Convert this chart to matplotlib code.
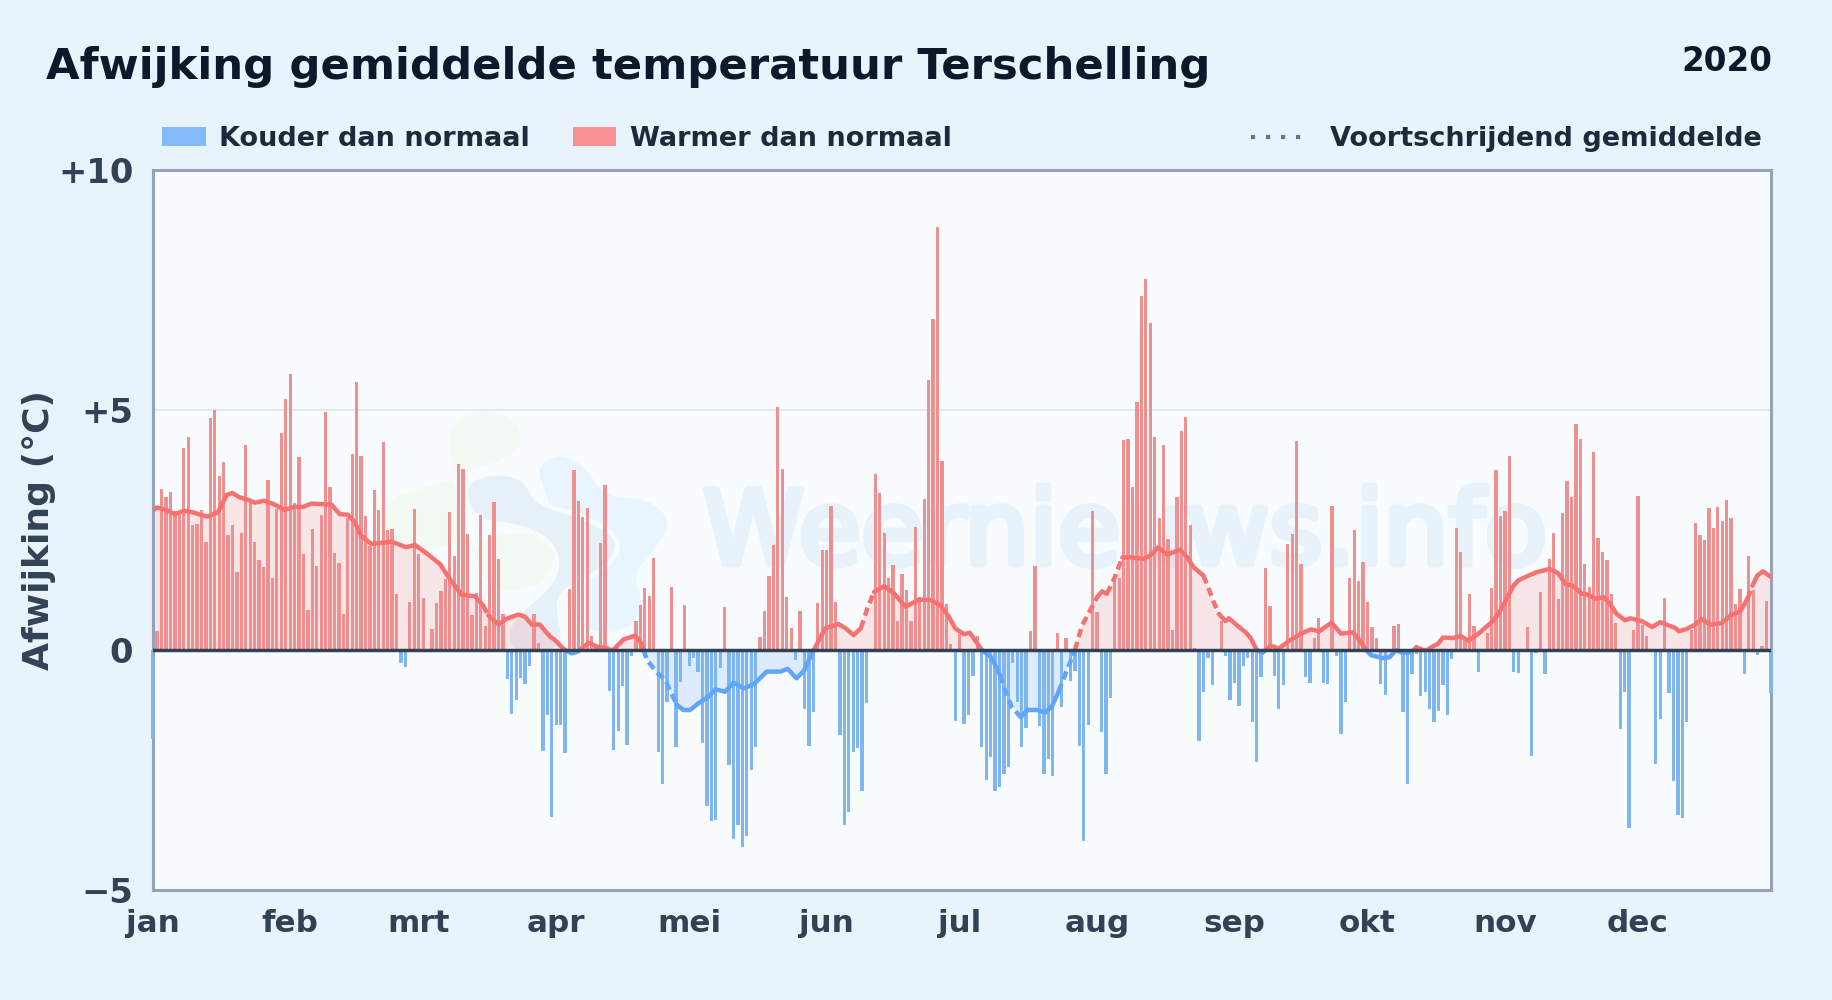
import numpy as np
import matplotlib
matplotlib.use("Agg")
import matplotlib.pyplot as plt
import matplotlib.patheffects as pe
from matplotlib.path import Path
from matplotlib.patches import PathPatch, Rectangle
from matplotlib.lines import Line2D

W, H = 1832, 1000

jan = [-1.85, 0.39, 3.35, 3.19, 3.30, 2.90, 2.90, 4.21, 4.44, 2.61, 2.63, 2.92, 2.24, 4.83, 5.00, 3.63,
       3.92, 2.40, 2.61, 1.63, 2.44, 4.27, 3.10, 2.26, 1.88, 1.72, 3.55, 1.51, 2.94, 4.52, 5.23]
feb = [5.75, 3.07, 4.02, 2.01, 0.84, 2.53, 1.74, 2.82, 4.96, 3.40, 2.03, 1.82, 0.76, 2.74, 4.09, 5.58,
       4.04, 2.80, 2.17, 3.34, 2.92, 4.34, 2.51, 2.53, 1.16, -0.28, -0.35, 0.99, 2.94]
mrt = [1.99, 1.09, 0, 0.43, 0.97, 1.22, 1.47, 2.88, 1.95, 3.88, 3.77, 2.42, 0.72, 1.19, 2.82, 0.51,
       2.40, 3.09, 1.90, 0.74, -0.60, -1.33, -1.05, -0.58, -0.70, -0.33, 0.76, 0.14, -2.10, -1.35, -3.48]
apr = [-1.56, -1.56, -2.15, 1.27, 3.74, 3.10, 2.78, 2.95, 0.29, 0.10, 2.22, 3.43, -0.85, -2.09, -1.68,
       -0.74, -1.97, -0.12, 0.60, 0.93, 1.29, 1.12, 1.91, -2.13, -2.80, -1.09, 1.31, -2.03, -0.66, 0.93]
mei = [-0.33, -0.16, -0.45, -1.93, -3.25, -3.57, -3.55, -0.37, 0.89, -2.40, -3.94, -3.65, -4.11, -3.88,
       -2.51, -2.03, 0.27, 0.81, 1.54, 2.18, 5.07, 3.78, 1.10, 0.46, -0.21, 0.81, -1.23, -2.01, -1.30, 0.98, 2.08]
jun = [2.08, 3.01, 1.00, -1.77, -3.65, -3.38, -2.13, -2.05, -2.94, -1.11, 0, 3.66, 3.28, 2.43, 1.50,
       1.77, 0.60, 1.58, 1.25, 0.60, 2.56, 1.10, 3.14, 5.63, 6.89, 8.81, 3.93, 0.96, 0.12, -1.47]
jul = [0.33, -1.55, -1.36, -0.55, 0.30, -2.03, -2.71, -2.22, -2.94, -2.86, -2.59, -2.44, -0.28, -1.09,
       -2.03, -1.63, 0.39, 1.76, -1.59, -2.59, -2.28, -2.63, 0.35, -1.18, 0.26, -0.64, -0.43, -1.99, -3.98, -1.57, 2.90]
aug = [0.80, -1.70, -2.59, -0.99, 1.45, 1.51, 4.38, 4.40, 3.40, 5.17, 7.37, 7.72, 6.81, 4.44, 2.76, 4.27,
       2.32, 0.41, 3.19, 4.56, 4.85, 2.61, 0.05, -1.90, -0.87, -0.17, -0.72, -0.05, 0.60, -0.12, -1.05]
sep = [-0.68, -1.16, -0.33, -0.16, -1.51, -2.34, -0.57, 1.70, 0.91, -0.55, -1.22, -0.72, 2.20, 2.42, 4.36,
       1.80, -0.57, -0.68, 0.26, 0.66, -0.68, -0.70, 3.01, -0.12, -1.76, -1.09, 1.49, 2.49, 1.43, 1.84]
okt = [0.99, 0.47, 0.24, -0.70, -0.93, 0, 0.49, 0.55, -1.29, -2.80, -0.50, -0.08, -0.95, -0.87, -1.23, -1.50,
       -1.27, -0.73, -1.35, -0.19, 2.55, 2.05, 0.24, 1.16, 0.51, -0.46, 0, 0.35, 1.30, 3.75, 2.80]
nov = [2.90, 4.04, -0.46, -0.48, 0, 0.47, -2.20, -0.06, 1.20, -0.50, 1.90, 2.44, 1.07, 2.86, 3.52, 3.19,
       4.71, 4.40, 1.80, 1.32, 4.13, 2.34, 2.05, 1.88, 1.16, 0.57, -1.64, -0.87, -3.70, 0.41]
dec = [3.21, 0.53, 0.30, 0, -2.37, -1.43, 1.09, -0.89, -2.72, -3.43, -3.49, -1.50, 0.41, 2.65, 2.40, 2.30,
       2.96, 2.55, 2.98, 2.69, 3.13, 2.74, 0.95, 1.28, -0.50, 1.95, 1.24, -0.10, 0.08, 1.03, -0.89]

month_labels = ["jan", "feb", "mrt", "apr", "mei", "jun", "jul", "aug", "sep", "okt", "nov", "dec"]
month_values = [jan, feb, mrt, apr, mei, jun, jul, aug, sep, okt, nov, dec]

# moving average as (day, value)
avg_days = [0, 1, 3, 5, 7, 9, 11, 12.4, 14.7, 15.8, 16.7, 18, 19.6, 21.5, 23, 25.2, 27.5, 29.7, 32, 33.9,
            35.8, 38, 40.3, 42.2, 44, 45.6, 47, 49.3, 51.6, 53.8, 57.2, 59.1, 61.7, 64.8, 67, 69.7, 72.7,
            74.5, 75.7, 78, 79.8, 82.5, 84, 85.5, 87.3, 89.6, 90.7, 92.6, 93, 94.5, 96, 96.3, 98.3, 100.2,
            102.4, 103.2, 104, 106.2, 108.8, 110, 110.7, 111.5, 113.7, 115.6, 117.1, 118.2, 119.7, 121.2,
            123.1, 125.4, 126.9, 129.1, 131, 133.3, 135.6, 138.5, 141.6, 143.2, 145.2, 147, 148, 149.1,
            149.9, 151.7, 154.7, 156.3, 158.1, 159.7, 161.2, 162.7, 165, 167.2, 169.8, 172.8, 175.5, 177.7,
            179.6, 181, 183, 184.3, 185.5, 187, 189.2, 191.1, 192.2, 193.7, 195.8, 197.3, 199.4, 201.3,
            202.8, 204.3, 206.2, 207.7, 208, 209.6, 211.8, 213, 214.1, 215.2, 216.7, 218.7, 220.5, 223.5,
            225, 226.8, 228.8, 231.7, 233.3, 234.8, 237, 238.2, 239.3, 240.5, 242, 242.7, 245, 246.5, 247.7,
            249, 250.3, 251, 252.2, 254, 256.3, 259, 261.2, 263.1, 265.9, 268, 270.7, 272.2, 273.7, 274.8,
            277.5, 279, 280.4, 281.6, 283.1, 284.5, 285, 286.5, 287.5, 288.4, 289.9, 291, 293.3, 295, 296.8,
            299, 302, 303.5, 305.4, 306.9, 308, 310.3, 312.1, 315.1, 317, 318.6, 320.5, 322.3, 323.5, 325.4,
            327.3, 328.7, 330.2, 332.1, 333.3, 335.9, 338.2, 340, 343.4, 344.2, 346, 347.9, 349.3, 351.3,
            353.9, 355.9, 358.1, 359.7, 360.8, 361.9, 363.2, 365]
avg_vals = [2.90, 2.97, 2.92, 2.83, 2.90, 2.87, 2.81, 2.78, 2.87, 3.07, 3.23, 3.27, 3.18, 3.13, 3.07, 3.11,
            3.03, 2.92, 2.98, 2.98, 3.05, 3.04, 3.03, 2.83, 2.82, 2.66, 2.38, 2.21, 2.23, 2.26, 2.14, 2.19,
            2.02, 1.79, 1.48, 1.15, 1.12, 0.93, 0.72, 0.53, 0.65, 0.74, 0.69, 0.53, 0.53, 0.28, 0.21, 0.03,
            0, -0.07, -0.03, 0, 0.15, 0.07, 0.04, 0, 0.01, 0.22, 0.30, 0.17, 0, -0.21, -0.47, -0.62, -0.93,
            -1.14, -1.25, -1.25, -1.11, -0.97, -0.82, -0.87, -0.68, -0.80, -0.71, -0.45, -0.45, -0.39, -0.59,
            -0.42, -0.21, 0, 0.14, 0.45, 0.54, 0.45, 0.31, 0.45, 0.87, 1.21, 1.33, 1.18, 0.90, 1.05, 1.04,
            0.93, 0.69, 0.45, 0.33, 0.36, 0.20, 0, -0.16, -0.52, -0.83, -1.18, -1.40, -1.25, -1.25, -1.30,
            -1.18, -0.87, -0.42, -0.08, 0, 0.51, 0.89, 1.10, 1.22, 1.17, 1.45, 1.93, 1.93, 1.90, 1.97, 2.14,
            1.99, 2.09, 1.93, 1.72, 1.55, 1.27, 1.00, 0.75, 0.60, 0.66, 0.48, 0.37, 0.24, 0, -0.06, 0, 0.09,
            0.03, 0.19, 0.34, 0.43, 0.39, 0.57, 0.34, 0.37, 0.20, 0, -0.11, -0.17, -0.15, 0, -0.05, -0.06, 0,
            0.06, 0, 0, 0.06, 0.13, 0.26, 0.25, 0.29, 0.19, 0.34, 0.58, 0.75, 1.07, 1.34, 1.45, 1.55, 1.62,
            1.69, 1.60, 1.38, 1.33, 1.17, 1.16, 1.07, 1.10, 0.96, 0.75, 0.62, 0.66, 0.60, 0.48, 0.58, 0.46,
            0.39, 0.44, 0.53, 0.65, 0.53, 0.56, 0.72, 0.81, 1.07, 1.34, 1.55, 1.64, 1.52]

# stretches of the curve that the original draws dashed
dashed_ranges = [(74.5, 75.7), (110.7, 118.2), (159.7, 162.7), (191.1, 195.8), (204.3, 207.7),
                 (208, 213), (215.2, 218.7), (237, 240.5), (359.7, 360.8)]

BG = "#e8f3fc"
PANEL = "#f8fcff"
RED = "#f87171"
BLUE = "#60a5fa"
BAR_RED = "#f08f8f"
BAR_BLUE = "#80b6f0"


def to_fig(x, y):
    return x / W, 1 - y / H


def blob(fig, points, color, grow=1.1, ox=350, oy=390):
    # closed quadratic spline on a rough outline (zoomed-crop coords), grown a bit since the spline cuts corners
    raw = np.array(points, dtype=float)
    centre = raw.mean(axis=0)
    raw = centre + (raw - centre) * grow
    pts = np.array([to_fig(ox + px / 3, oy + py / 3) for px, py in raw])
    mids = (pts + np.roll(pts, -1, axis=0)) / 2
    verts = [mids[-1]]
    codes = [Path.MOVETO]
    for p, m in zip(pts, mids):
        verts += [p, m]
        codes += [Path.CURVE3, Path.CURVE3]
    patch = PathPatch(Path(verts, codes), facecolor=color, edgecolor=PANEL, lw=3.5,
                      transform=fig.transFigure, clip_on=False)
    fig.add_artist(patch)
    patch.set_zorder(0.2)
    return patch


def main():
    days = np.arange(366)
    values = np.array([v for month in month_values for v in month], dtype=float)
    x_avg = np.array(avg_days)
    y_avg = np.array(avg_vals)

    month_starts = np.cumsum([0] + [len(m) for m in month_values[:-1]])

    fig = plt.figure(figsize=(W / 100, H / 100), dpi=100, facecolor=BG)
    plt.rcParams["font.family"] = "DejaVu Sans"

    left, top = to_fig(152.7, 170)
    right, bottom = to_fig(1771, 890)
    ax = fig.add_axes([left, bottom, right - left, top - bottom], facecolor="none", zorder=2)
    panel = Rectangle((left, bottom), right - left, top - bottom, transform=fig.transFigure,
                      facecolor=PANEL, edgecolor="none", zorder=0.1)
    fig.add_artist(panel)

    # watermark
    blob(fig, [(300, 110), (400, 65), (495, 110), (505, 190), (400, 240), (300, 265), (105, 320), (105, 440),
               (250, 470), (350, 440), (340, 330), (290, 200)], "#f3f9f3")
    blob(fig, [(370, 470), (470, 425), (590, 440), (615, 520), (560, 590), (450, 605), (390, 540)], "#f3f9f3")
    blob(fig, [(560, 240), (640, 195), (715, 240), (770, 325), (890, 325), (965, 400), (900, 495), (850, 550),
               (885, 640), (830, 715), (720, 720), (650, 640), (640, 500), (600, 340)], "#e9f5fe", grow=1.06)
    blob(fig, [(340, 290), (430, 250), (530, 270), (560, 345), (690, 380), (800, 440), (790, 510), (700, 570),
               (640, 600), (620, 640), (650, 775), (480, 790), (470, 690), (620, 570), (620, 470), (520, 410),
               (380, 400)], "#e5f0f9", grow=1.03)
    fig.text(703 / W, 1 - 564 / H, "Weernieuws.info", fontsize=73.7, color="#e8f2fb", ha="left", va="baseline",
             zorder=0.3, path_effects=[pe.withStroke(linewidth=5, foreground="#e8f2fb")])

    colors = [BAR_RED if v >= 0 else BAR_BLUE for v in values]
    ax.bar(days, values, width=0.74, color=colors, linewidth=0, zorder=3, clip_on=False)

    ax.fill_between(x_avg, y_avg, 0, where=y_avg >= 0, interpolate=True, color=RED, alpha=0.16,
                    linewidth=0, zorder=2)
    ax.fill_between(x_avg, y_avg, 0, where=y_avg <= 0, interpolate=True, color=BLUE, alpha=0.18,
                    linewidth=0, zorder=2)

    # split the curve in runs of the same colour and line style
    def style_of(i):
        mid_x = (x_avg[i] + x_avg[i + 1]) / 2
        mid_y = (y_avg[i] + y_avg[i + 1]) / 2
        dashed = any(a <= mid_x <= b for a, b in dashed_ranges)
        return (mid_y >= 0, dashed)

    start = 0
    for i in range(len(x_avg) - 1):
        if i == len(x_avg) - 2 or style_of(i + 1) != style_of(start):
            warm, dashed = style_of(start)
            ax.plot(x_avg[start:i + 2], y_avg[start:i + 2], color=RED if warm else BLUE, lw=3.2,
                    ls=(0, (1.9, 1.1)) if dashed else "-", solid_capstyle="round",
                    solid_joinstyle="round", dash_capstyle="butt", zorder=5)
            start = i + 1

    ax.axhline(0, color="#334155", lw=2.5, zorder=6)
    ax.axhline(5, color="#e2e8f0", lw=1.3, zorder=1)

    ax.set_xlim(0, 365)
    ax.set_ylim(-5, 10)
    ax.set_xticks(month_starts)
    ax.set_xticklabels(month_labels, fontsize=22.3, fontweight="bold", color="#334155")
    ax.set_yticks([-5, 0, 5, 10])
    ax.set_yticklabels(["\u22125", "0", "+5", "+10"], fontsize=24.3, fontweight="bold", color="#334155")
    ax.tick_params(axis="both", length=0)
    ax.tick_params(axis="x", pad=13.5)
    ax.tick_params(axis="y", pad=14)
    for spine in ax.spines.values():
        spine.set_color("#94a3b8")
        spine.set_linewidth(2.2)
        spine.set_zorder(2.5)

    fig.text(39 / W, 1 - 530 / H, "Afwijking (\u00b0C)", rotation=90, fontsize=26, fontweight="bold",
             color="#334155", ha="center", va="center")

    fig.text(46 / W, 1 - 79 / H, "Afwijking gemiddelde temperatuur Terschelling", fontsize=31.2, fontweight="bold",
             color="#0f172a", ha="left", va="baseline")
    fig.text(1772 / W, 1 - 71 / H, "2020", fontsize=23.5, fontweight="bold", color="#0f172a",
             ha="right", va="baseline")

    # legend
    for x0, x1, c in [(162, 206, "#85baf9"), (573, 616, "#f89193")]:
        fig.add_artist(Rectangle((x0 / W, 1 - 146 / H), (x1 - x0) / W, 19 / H, transform=fig.transFigure,
                                 facecolor=c, edgecolor="none"))
    fig.add_artist(Line2D([1251 / W, 1308 / W], [1 - 137 / H, 1 - 137 / H], transform=fig.transFigure,
                          color="#64748b", lw=3, ls=(0, (1, 2.6))))
    for x0, label, size in [(219, "Kouder dan normaal", 19.5), (630, "Warmer dan normaal", 19.5),
                            (1330, "Voortschrijdend gemiddelde", 19.55)]:
        fig.text(x0 / W, 1 - 145.5 / H, label, fontsize=size, fontweight="bold", color="#1e293b",
                 ha="left", va="baseline")

    fig.savefig("out.png", dpi=100, facecolor=BG)


if __name__ == "__main__":
    main()
